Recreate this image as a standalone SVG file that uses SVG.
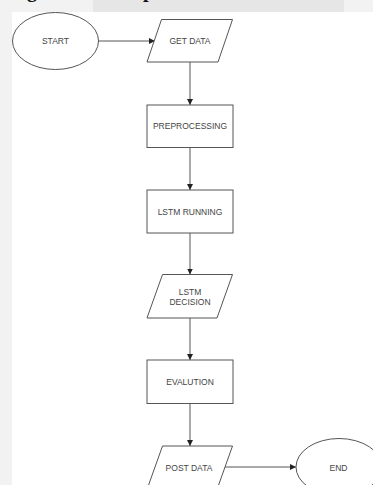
<svg xmlns="http://www.w3.org/2000/svg" width="373" height="485" viewBox="0 0 373 485">
<style>
.shape{fill:#ffffff;stroke:#555555;stroke-width:1}
.lbl{font-family:"Liberation Sans",Arial,sans-serif;font-size:8.5px;fill:#444444;text-anchor:middle;dominant-baseline:central}
.conn{fill:none;stroke:#555555;stroke-width:1}
.hdr{font-family:"Liberation Serif","Times New Roman",serif;font-weight:bold;font-size:20px;fill:#111111}
</style>
<defs>
<marker id="arr" viewBox="0 0 10 10" refX="10" refY="5" markerWidth="6" markerHeight="6" orient="auto" markerUnits="userSpaceOnUse">
<path d="M0,0 L10,5 L0,10 z" fill="#222222"/>
</marker>
</defs>
<rect x="0" y="0" width="373" height="485" fill="#f2f2f2"/>
<rect x="93" y="0" width="251" height="12" fill="#e6e6e6"/>
<rect x="12" y="12" width="361" height="473" fill="#ffffff"/>
<text class="hdr" x="27" y="-3">g</text>
<text class="hdr" x="143" y="-3">p</text>
<g id="connectors">
<line class="conn" x1="98.5" y1="41" x2="155" y2="41" marker-end="url(#arr)"/>
<line class="conn" x1="190" y1="62" x2="190" y2="105" marker-end="url(#arr)"/>
<line class="conn" x1="190" y1="147" x2="190" y2="190" marker-end="url(#arr)"/>
<line class="conn" x1="190" y1="233" x2="190" y2="274.5" marker-end="url(#arr)"/>
<line class="conn" x1="190" y1="318" x2="190" y2="360" marker-end="url(#arr)"/>
<line class="conn" x1="190" y1="403.5" x2="190" y2="446" marker-end="url(#arr)"/>
<line class="conn" x1="224" y1="467" x2="296" y2="467" marker-end="url(#arr)"/>
</g>
<g id="start">
<ellipse class="shape" cx="55.5" cy="41" rx="43" ry="28.5"/>
<text class="lbl" x="55.5" y="41">START</text>
</g>
<g id="get-data">
<polygon class="shape" points="161.5,19.5 232.5,19.5 218,62 147,62"/>
<text class="lbl" x="190" y="41">GET DATA</text>
</g>
<g id="preprocessing">
<rect class="shape" x="147" y="105" width="86" height="42.5"/>
<text class="lbl" x="190" y="126">PREPROCESSING</text>
</g>
<g id="lstm-running">
<rect class="shape" x="147" y="190" width="86" height="43"/>
<text class="lbl" x="190" y="211.5">LSTM RUNNING</text>
</g>
<g id="lstm-decision">
<polygon class="shape" points="162.5,274.5 232.5,274.5 217,318 147,318"/>
<text class="lbl" x="190" y="291.5">LSTM</text>
<text class="lbl" x="190" y="301.5">DECISION</text>
</g>
<g id="evalution">
<rect class="shape" x="147" y="360" width="86" height="43.5"/>
<text class="lbl" x="190" y="382">EVALUTION</text>
</g>
<g id="post-data">
<polygon class="shape" points="162.5,446 232.5,446 217,489.5 147,489.5"/>
<text class="lbl" x="189" y="467.5">POST DATA</text>
</g>
<g id="end">
<ellipse class="shape" cx="339" cy="467" rx="43" ry="28.5"/>
<text class="lbl" x="338.5" y="467.5">END</text>
</g>
</svg>
